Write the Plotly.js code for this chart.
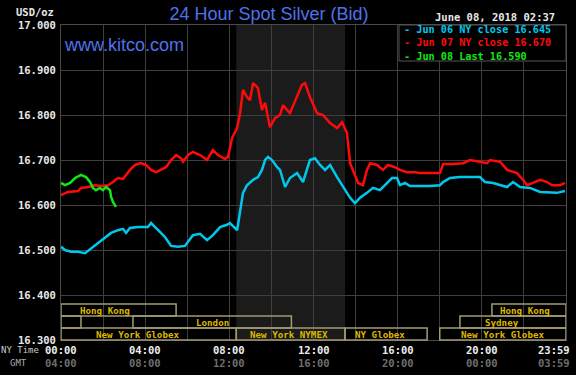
<!DOCTYPE html>
<html>
<head>
<meta charset="utf-8">
<script src="https://cdn.plot.ly/plotly-3.0.1.min.js"></script>
<style>html,body{margin:0;padding:0;background:#000;}#chart{width:576px;height:375px;}</style>
</head>
<body>
<div id="chart"></div>
<script>
// ---- Data (time in hours, NY time) ----
const jun06Hours = [0.00,0.19,0.48,0.81,1.14,1.43,1.76,2.09,2.38,2.71,2.95,3.09,3.28,3.66,4.13,4.28,4.61,4.94,5.23,5.56,5.89,6.04,6.27,6.61,6.94,7.22,7.56,7.89,8.03,8.37,8.51,8.65,8.84,9.13,9.36,9.55,9.70,9.84,10.03,10.27,10.41,10.65,10.88,11.22,11.50,11.74,11.83,12.07,12.31,12.55,12.79,13.12,13.40,13.74,13.97,14.21,14.54,14.83,15.16,15.49,15.73,15.97,16.11,16.35,16.59,17.54,18.01,18.16,18.49,18.96,19.91,20.15,20.53,21.20,21.48,21.82,22.29,22.77,23.24,23.57,23.95];
const jun06Values = [16.507,16.500,16.496,16.496,16.493,16.504,16.516,16.527,16.538,16.544,16.547,16.538,16.549,16.551,16.551,16.560,16.544,16.529,16.509,16.507,16.509,16.518,16.533,16.536,16.522,16.533,16.551,16.556,16.560,16.544,16.582,16.627,16.644,16.656,16.662,16.678,16.700,16.707,16.700,16.684,16.678,16.640,16.660,16.671,16.651,16.684,16.700,16.704,16.689,16.678,16.689,16.662,16.640,16.616,16.604,16.616,16.627,16.638,16.633,16.649,16.660,16.660,16.644,16.649,16.642,16.642,16.644,16.651,16.660,16.662,16.662,16.651,16.649,16.640,16.651,16.640,16.638,16.629,16.627,16.627,16.631];

const jun07Hours = [0.00,0.33,0.81,0.95,1.28,1.62,1.90,2.23,2.47,2.71,2.95,3.09,3.28,3.52,3.80,4.04,4.28,4.52,4.75,4.99,5.23,5.47,5.70,5.80,6.04,6.27,6.61,6.94,7.22,7.46,7.79,7.94,8.13,8.37,8.51,8.65,8.84,8.98,9.13,9.36,9.55,9.70,9.93,10.17,10.41,10.55,10.88,11.22,11.45,11.60,11.83,12.17,12.45,12.79,13.12,13.36,13.59,13.74,13.88,14.12,14.35,14.54,14.69,15.02,15.30,15.54,15.87,16.11,16.44,16.83,17.06,18.01,18.16,18.63,19.11,19.44,19.91,20.25,20.39,20.87,21.20,21.67,21.96,22.15,22.43,22.77,23.10,23.34,23.72,23.95];
const jun07Values = [16.622,16.629,16.631,16.638,16.640,16.644,16.642,16.644,16.651,16.660,16.658,16.667,16.678,16.689,16.693,16.689,16.678,16.673,16.678,16.684,16.700,16.711,16.704,16.696,16.711,16.718,16.711,16.700,16.722,16.711,16.702,16.707,16.749,16.771,16.804,16.856,16.840,16.833,16.871,16.860,16.811,16.827,16.773,16.793,16.800,16.822,16.804,16.840,16.867,16.871,16.840,16.804,16.800,16.782,16.771,16.784,16.760,16.693,16.678,16.649,16.644,16.678,16.693,16.689,16.678,16.689,16.684,16.678,16.673,16.673,16.671,16.671,16.691,16.691,16.693,16.700,16.696,16.693,16.700,16.696,16.678,16.671,16.656,16.644,16.649,16.656,16.651,16.644,16.644,16.649];

const jun08Hours = [0.00,0.19,0.43,0.67,0.95,1.19,1.38,1.52,1.66,1.85,1.99,2.14,2.33,2.38,2.47,2.61];
const jun08Values = [16.649,16.644,16.649,16.660,16.667,16.662,16.651,16.638,16.633,16.638,16.633,16.640,16.633,16.618,16.607,16.596];

const seriesNames = ["Jun 06 NY close", "Jun 07 NY close", "Jun 08 Last"];
const seriesLast = ["16.645", "16.670", "16.590"];
const seriesColors = ["#00c8ec", "#ff0a0a", "#14e614"];

const nyTickHours = [0, 4, 8, 12, 16, 20, 23.45];
const nyTickLabels = ["00:00", "04:00", "08:00", "12:00", "16:00", "20:00", "23:59"];
const gmtTickLabels = ["04:00", "08:00", "12:00", "16:00", "20:00", "00:00", "03:59"];

// Market sessions
const sessionStart = [0, 20.48, 0, 3.42, 18.96, 0, 8.33, 13.5, 18.0];
const sessionEnd   = [5.47, 24, 0.95, 10.95, 24, 8.33, 13.5, 17.4, 24];
const sessionRow   = [0, 0, 1, 1, 1, 2, 2, 2, 2];
const sessionLabel = ["Hong Kong", "Hong Kong", "", "London", "Sydney", "New York Globex", "New York NYMEX", "NY Globex", "New York Globex"];
const sessionLabelHour = [2.09, 22.05, 0, 7.18, 20.98, 3.64, 10.84, 15.16, 20.96];
const nymexShade = [8.33, 13.5];

// ---- Build ----
const plotW = 505, plotH = 315;
const mono = "DejaVu Sans Mono, monospace";
const traces = seriesNames.map((n, i) => ({
  x: [jun06Hours, jun07Hours, jun08Hours][i],
  y: [jun06Values, jun07Values, jun08Values][i],
  name: n, mode: "lines", line: {color: seriesColors[i], width: 2.5}
}));

const shapes = [];
shapes.push({type: "rect", xref: "x", yref: "paper", x0: nymexShade[0], x1: nymexShade[1], y0: 0, y1: 1,
  fillcolor: "#1b1b1b", line: {width: 0}, layer: "below"});
const rowH = 12 / plotH;
const annotations = [];
for (let i = 0; i < sessionStart.length; i++) {
  const y1 = (3 - sessionRow[i]) * rowH, y0 = y1 - rowH;
  shapes.push({type: "rect", xref: "x", yref: "paper", x0: sessionStart[i], x1: sessionEnd[i], y0: y0, y1: y1,
    fillcolor: "rgba(0,0,0,0)", line: {color: "#a29b72", width: 1.5}, layer: "above"});
  if (sessionLabel[i]) {
    annotations.push({xref: "x", yref: "paper", x: sessionLabelHour[i], y: (y0 + y1) / 2, text: sessionLabel[i],
      showarrow: false, xanchor: "center", yanchor: "middle", font: {family: mono, size: 9.2, color: "#dcb800", weight: "bold"}});
  }
}
// legend box
const lgX0 = (399 - 61) / plotW, lgY0 = (340 - 61) / plotH;
shapes.push({type: "rect", xref: "paper", yref: "paper", x0: lgX0, x1: 1, y0: lgY0, y1: 1,
  fillcolor: "#000", line: {color: "#555", width: 1}, layer: "above"});
const legendText = seriesNames.map((n, i) =>
  '<span style="color:' + seriesColors[i] + '">- ' + n + ' ' + seriesLast[i] + '</span>').join("<br>");
annotations.push({xref: "paper", yref: "paper", x: (402 - 61) / plotW, y: (340 - 43) / plotH,
  text: legendText, align: "left", showarrow: false, xanchor: "left", yanchor: "middle",
  font: {family: mono, size: 10.2, color: "#ffffff", weight: "bold"}});
// time labels
for (let i = 0; i < nyTickHours.length; i++) {
  annotations.push({xref: "x", yref: "paper", x: nyTickHours[i], y: (340 - 350) / plotH, text: nyTickLabels[i],
    showarrow: false, xanchor: "center", yanchor: "middle", font: {family: mono, size: 10.5, color: "#eeeeee", weight: "bold"}});
  annotations.push({xref: "x", yref: "paper", x: nyTickHours[i], y: (340 - 363) / plotH, text: gmtTickLabels[i],
    showarrow: false, xanchor: "center", yanchor: "middle", font: {family: mono, size: 10.5, color: "#6e6e6e", weight: "bold"}});
}
annotations.push({xref: "paper", yref: "paper", x: (41 - 61) / plotW, y: (340 - 350) / plotH, text: "NY Time",
  showarrow: false, xanchor: "right", yanchor: "middle", font: {family: mono, size: 9, color: "#cccccc"}});
annotations.push({xref: "paper", yref: "paper", x: (18 - 61) / plotW, y: (340 - 363) / plotH, text: "GMT",
  showarrow: false, xanchor: "center", yanchor: "middle", font: {family: mono, size: 9, color: "#aaaaaa"}});
annotations.push({xref: "paper", yref: "paper", x: (56 - 61) / plotW, y: (340 - 12) / plotH, text: "USD/oz",
  showarrow: false, xanchor: "right", yanchor: "middle", font: {family: mono, size: 10.5, color: "#e8e8e8", weight: "bold"}});
annotations.push({xref: "paper", yref: "paper", x: (557 - 61) / plotW, y: (340 - 17) / plotH, text: "June 08, 2018 02:37",
  showarrow: false, xanchor: "right", yanchor: "middle", font: {family: mono, size: 10.5, color: "#e8e8e8", weight: "bold"}});
annotations.push({xref: "paper", yref: "paper", x: (62 - 61) / plotW, y: (340 - 45) / plotH, text: "www.kitco.com",
  showarrow: false, xanchor: "left", yanchor: "middle", font: {family: "Liberation Sans, Arial, sans-serif", size: 18, color: "#4f72ec"}});

const layout = {
  width: 576, height: 375,
  margin: {l: 61, r: 10, t: 25, b: 35},
  paper_bgcolor: "#000", plot_bgcolor: "#000",
  showlegend: false,
  title: {text: "24 Hour Spot Silver (Bid)", x: 269 / 576, xref: "container", xanchor: "center",
    y: 1 - 14 / 375, yref: "container", yanchor: "middle",
    font: {family: "Liberation Sans, Arial, sans-serif", size: 18, color: "#4f72ec"}},
  xaxis: {range: [0, 24], tickvals: [0,2,4,6,8,10,12,14,16,18,20,22,24], showticklabels: false, ticks: "",
    showgrid: true, gridcolor: "#3e3e3e", gridwidth: 1, zeroline: false,
    showline: true, linecolor: "#4a4a4a", linewidth: 1, mirror: true, fixedrange: true},
  yaxis: {range: [16.3, 17.0], dtick: 0.1, tick0: 16.3, tickformat: ".3f", ticks: "",
    showgrid: true, gridcolor: "#3e3e3e", gridwidth: 1, zeroline: false,
    showline: true, linecolor: "#4a4a4a", linewidth: 1, mirror: true,
    tickfont: {family: mono, size: 10.5, color: "#e8e8e8", weight: "bold"}, ticklabelstandoff: 2, fixedrange: true},
  shapes: shapes,
  annotations: annotations
};

Plotly.newPlot("chart", traces, layout, {staticPlot: true, displayModeBar: false});
</script>
</body>
</html>
